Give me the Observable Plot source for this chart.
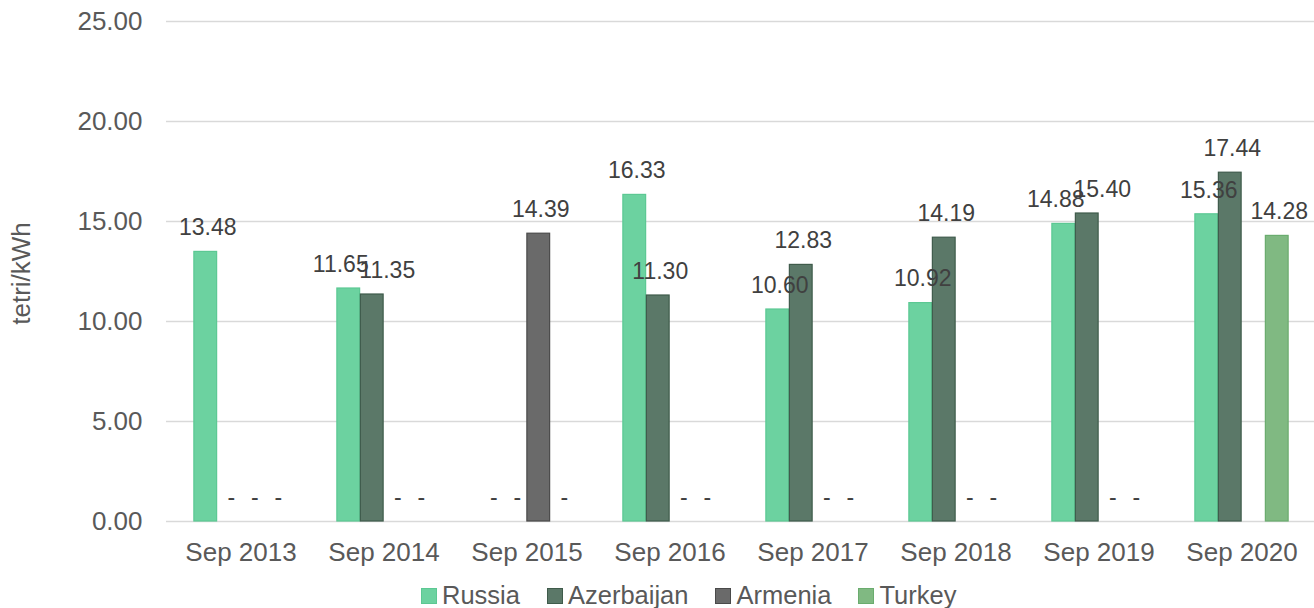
<!DOCTYPE html>
<html><head><meta charset="utf-8">
<script src="https://cdn.jsdelivr.net/npm/d3@7"></script>
<script src="https://cdn.jsdelivr.net/npm/@observablehq/plot@0.6"></script>
<style>
html,body{margin:0;padding:0;background:#fff;overflow:hidden}
#legend{display:flex;align-items:center;margin-left:421px;margin-top:1px;height:28px;font:25.5px "Liberation Sans",Arial,sans-serif;color:#595959;white-space:nowrap}
.item{display:flex;align-items:center;margin-right:27px}
.sw{width:14px;height:14px;border:1px solid;margin-right:5px;margin-top:2px}
</style></head><body><div id="chart"></div><div id="legend"></div>
<script>
const categories = ["Sep 2013","Sep 2014","Sep 2015","Sep 2016","Sep 2017","Sep 2018","Sep 2019","Sep 2020"];
const seriesNames = ["Russia","Azerbaijan","Armenia","Turkey"];
const russia     = [13.48, 11.65, null, 16.33, 10.60, 10.92, 14.88, 15.36];
const azerbaijan = [null, 11.35, null, 11.30, 12.83, 14.19, 15.40, 17.44];
const armenia    = [null, null, 14.39, null, null, null, null, null];
const turkey     = [null, null, null, null, null, null, null, 14.28];
const unlabeled  = [["Sep 2020","Armenia"]];
const yTicks = [0, 5, 10, 15, 20, 25];
const yLabel = "tetri/kWh";

const fills   = ["#6CD2A0","#5B7868","#6A6A6A","#80B982"];
const strokes = ["#5CC893","#3F5B4B","#4A4A4A","#6AAC6E"];
const seriesValues = [russia, azerbaijan, armenia, turkey];

const bandW = (1316 - 166) / categories.length;
const barW = 23.5;
const inset = (bandW - barW) / 2;

const rows = [];
seriesValues.forEach((vals, i) => {
  vals.forEach((v, j) => {
    const cat = categories[j];
    const skip = unlabeled.some(([c, s]) => c === cat && s === seriesNames[i]);
    let shift = 0;
    const r = russia[j], a = azerbaijan[j];
    if (r != null && a != null && Math.abs(r - a) < 1) {
      if (i === 0) shift = -10;
      if (i === 1) shift = 13;
    }
    rows.push({cat, series: seriesNames[i], i, value: v, label: v == null ? (skip ? "" : "-") : v.toFixed(2), shift});
  });
});

const marks = [
  Plot.ruleY(yTicks, {stroke: "#D9D9D9", strokeWidth: 1.5})
];
seriesNames.forEach((s, i) => {
  const data = rows.filter(d => d.i === i && d.value != null);
  marks.push(Plot.barY(data, {
    x: "cat", y: "value", dx: (i - 1.5) * barW,
    insetLeft: inset, insetRight: inset,
    fill: fills[i], stroke: strokes[i], strokeWidth: 1.2
  }));
});
seriesNames.forEach((s, i) => {
  const ls = rows.filter(d => d.i === i && d.label !== "");
  const shifts = [...new Set(ls.map(d => d.shift))];
  shifts.forEach(sh => {
    marks.push(Plot.text(ls.filter(d => d.shift === sh), {
      x: "cat", y: d => d.value == null ? 0 : d.value, text: "label",
      dx: (i - 1.5) * barW + 2 + sh, dy: -24,
      fontSize: 23, fill: "#404040", lineAnchor: "middle", textAnchor: "middle"
    }));
  });
});
marks.push(Plot.axisY({ticks: yTicks, tickFormat: d => d.toFixed(2), tickSize: 0, tickPadding: 24, label: null, fontSize: 26}));
marks.push(Plot.axisX({tickSize: 0, tickPadding: 21, label: null, fontSize: 26}));
marks.push(Plot.text([yLabel], {frameAnchor: "left", dx: -145, dy: 2, rotate: -90, fontSize: 26, fill: "#595959", textAnchor: "middle", lineAnchor: "middle"}));

const chart = Plot.plot({
  width: 1314, height: 580,
  marginLeft: 166, marginRight: 0, marginTop: 21, marginBottom: 59,
  style: {fontFamily: "'Liberation Sans', Arial, sans-serif", color: "#595959", background: "#fff", overflow: "hidden"},
  x: {domain: categories, range: [166, 1316], padding: 0},
  y: {domain: [0, 25], range: [521, 21]},
  marks
});
document.getElementById("chart").appendChild(chart);

const legend = document.getElementById("legend");
seriesNames.forEach((s, i) => {
  const it = document.createElement("div"); it.className = "item";
  const sw = document.createElement("span"); sw.className = "sw";
  sw.style.background = fills[i]; sw.style.borderColor = strokes[i];
  const t = document.createElement("span"); t.textContent = s;
  it.appendChild(sw); it.appendChild(t); legend.appendChild(it);
});
</script></body></html>
